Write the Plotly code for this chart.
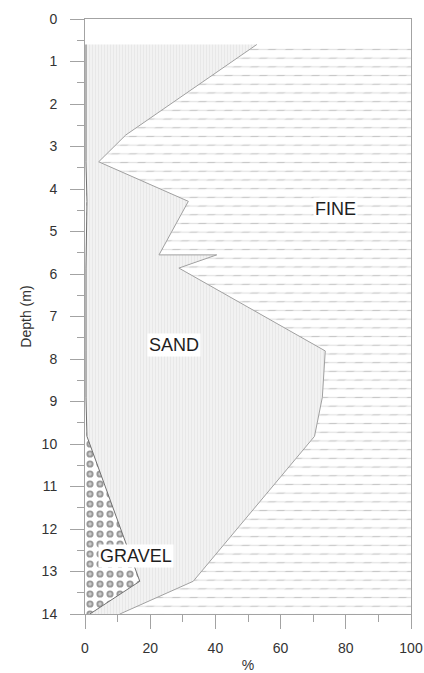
import plotly.graph_objects as go

# ---- data ----
depth_m = [0.6, 2.73, 3.36, 4.29, 5.55, 5.55, 5.86, 7.81, 8.9, 9.82, 13.23, 14.0]
gravel_pct = [0.3, 0.3, 0.3, 0.6, 0.3, 0.3, 0.3, 0.3, 0.3, 0.6, 16.8, 1.5]
sand_pct = [52.4, 12.2, 3.9, 31.1, 22.4, 40.1, 28.5, 73.4, 72.5, 69.8, 16.4, 9.2]
fines_pct = [47.3, 87.5, 95.8, 68.3, 77.3, 59.6, 71.2, 26.3, 27.2, 29.6, 66.8, 89.3]

x_ticks = [0, 20, 40, 60, 80, 100]
y_ticks = list(range(0, 15))
depth_range = [14, 0]
pct_range = [0, 100]

labels = ["FINE", "SAND", "GRAVEL"]
label_x = [76.7, 27.4, 15.6]
label_y = [4.48, 7.66, 12.63]

# cumulative boundaries
gravel_top = gravel_pct[:]
sand_top = [g + s for g, s in zip(gravel_pct, sand_pct)]
total = [g + s + f for g, s, f in zip(gravel_pct, sand_pct, fines_pct)]

AX = "#a3a3a3"
FONT = "Liberation Sans, Arial, sans-serif"

fig = go.Figure()

# FINE region: from sand+gravel boundary to total (100 %)
fine_x = sand_top + total[::-1]
fine_y = depth_m + depth_m[::-1]
fig.add_trace(go.Scatter(
    x=fine_x, y=fine_y, fill="toself", mode="lines", line=dict(width=0),
    fillcolor="white",
    fillpattern=dict(shape="-", fgcolor="#8e8e8e", bgcolor="white",
                     size=8.7, solidity=0.14),
    hoverinfo="skip", showlegend=False))
# white diagonal cuts -> staggered dashes
fig.add_trace(go.Scatter(
    x=fine_x, y=fine_y, fill="toself", mode="lines", line=dict(width=0),
    fillcolor="rgba(0,0,0,0)",
    fillpattern=dict(shape="/", fgcolor="white", bgcolor="rgba(0,0,0,0)",
                     size=12.3, solidity=0.55),
    hoverinfo="skip", showlegend=False))

# SAND region
sand_x = sand_top + gravel_top[::-1]
sand_y = depth_m + depth_m[::-1]
fig.add_trace(go.Scatter(
    x=sand_x, y=sand_y, fill="toself", mode="lines", line=dict(width=0),
    fillcolor="#efefef",
    fillpattern=dict(shape="|", fgcolor="#dfdfdf", bgcolor="#f2f2f2",
                     size=3, solidity=0.33),
    hoverinfo="skip", showlegend=False))

# GRAVEL region (rings = dark dots + smaller white dots)
zero = [0 for _ in depth_m]
grav_x = gravel_top + zero[::-1]
grav_y = depth_m + depth_m[::-1]
fig.add_trace(go.Scatter(
    x=grav_x, y=grav_y, fill="toself", mode="lines", line=dict(width=0),
    fillcolor="white",
    fillpattern=dict(shape=".", fgcolor="#333333", bgcolor="white",
                     size=10, solidity=0.41),
    hoverinfo="skip", showlegend=False))
fig.add_trace(go.Scatter(
    x=grav_x, y=grav_y, fill="toself", mode="lines", line=dict(width=0),
    fillcolor="rgba(0,0,0,0)",
    fillpattern=dict(shape=".", fgcolor="white", bgcolor="rgba(0,0,0,0)",
                     size=10, solidity=0.09),
    hoverinfo="skip", showlegend=False))

# boundary lines
fig.add_trace(go.Scatter(x=sand_top, y=depth_m, mode="lines",
                         line=dict(color="#a0a0a0", width=1),
                         hoverinfo="skip", showlegend=False))
fig.add_trace(go.Scatter(x=gravel_top, y=depth_m, mode="lines",
                         line=dict(color="#707070", width=1),
                         hoverinfo="skip", showlegend=False))

for t, lx, ly in zip(labels, label_x, label_y):
    fig.add_annotation(x=lx, y=ly, text=t, showarrow=False,
                       font=dict(family=FONT, size=18, color="#1e1e1e"),
                       bgcolor="white", borderpad=1)

fig.update_xaxes(
    range=pct_range, tickvals=x_ticks, ticks="outside", ticklen=14,
    tickcolor=AX, tickwidth=1, linecolor=AX, linewidth=1, mirror=True,
    showgrid=False, zeroline=False, ticklabelstandoff=7, automargin=False,
    minor=dict(dtick=10, ticks="outside", ticklen=7, tickcolor=AX, tickwidth=1),
    tickfont=dict(family=FONT, size=14, color="#333333"),
    title=dict(text="%", font=dict(family=FONT, size=14, color="#333333"), standoff=8),
)
fig.update_yaxes(
    range=depth_range, tickvals=y_ticks, ticks="outside", ticklen=14,
    tickcolor=AX, tickwidth=1, linecolor=AX, linewidth=1, mirror=True,
    showgrid=False, zeroline=False, ticklabelstandoff=10, automargin=False,
    minor=dict(dtick=0.5, ticks="outside", ticklen=7, tickcolor=AX, tickwidth=1),
    tickfont=dict(family=FONT, size=14, color="#333333"),
    title=dict(text="Depth (m)", font=dict(family=FONT, size=14, color="#333333"), standoff=6),
)

fig.update_layout(
    width=424, height=673,
    margin=dict(l=85, r=13, t=19, b=59),
    paper_bgcolor="white", plot_bgcolor="white",
    showlegend=False,
)

fig.write_html("out.html")
